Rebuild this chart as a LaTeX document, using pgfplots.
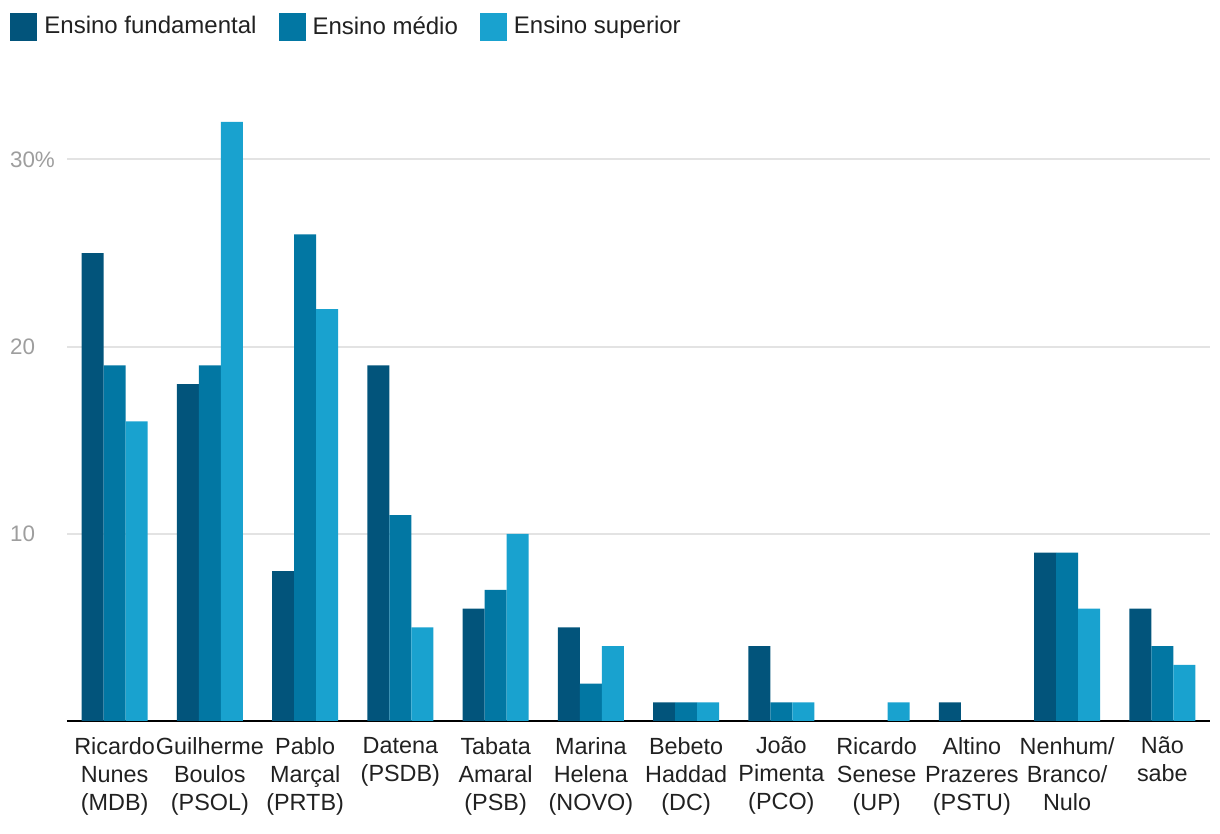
\documentclass[border=0pt]{standalone}
\usepackage{pgfplots}
\pgfplotsset{compat=1.18}
\usepackage{fontspec}
\setmainfont{Liberation Sans}

\definecolor{fund}{HTML}{02547B}
\definecolor{medio}{HTML}{0277A3}
\definecolor{sup}{HTML}{19A2CF}
\definecolor{gridc}{HTML}{E3E3E3}
\definecolor{tickc}{HTML}{9E9E9E}
\definecolor{txt}{HTML}{212121}

\begin{document}
\begin{tikzpicture}
\begin{axis}[
    scale only axis,
    width=571.5pt, height=299.5pt,
    ybar=0pt, bar width=11pt,
    xmin=-0.5, xmax=11.5,
    ymin=0, ymax=32,
    axis x line*=bottom, axis y line*=left,
    axis line style={-},
    x axis line style={black, line width=1pt},
    y axis line style={draw=none},
    major tick length=0pt,
    ymajorgrids, grid style={gridc, line width=1pt},
    ytick={10,20,30}, yticklabels={10,20,30\%},
    yticklabel style={font=\fontsize{11.2}{13}\selectfont, text=tickc, anchor=west, xshift=-32pt},
    xtick={0,...,11},
    xticklabels={
      {Ricardo\\Nunes\\(MDB)},
      {Guilherme\\Boulos\\(PSOL)},
      {Pablo\\Marçal\\(PRTB)},
      {Datena\\(PSDB)},
      {Tabata\\Amaral\\(PSB)},
      {Marina\\Helena\\(NOVO)},
      {Bebeto\\Haddad\\(DC)},
      {João\\Pimenta\\(PCO)},
      {Ricardo\\Senese\\(UP)},
      {Altino\\Prazeres\\(PSTU)},
      {Nenhum/\\Branco/\\Nulo},
      {Não\\sabe}},
    xticklabel style={font=\fontsize{11.7}{14}\selectfont, text=txt, align=center, anchor=north, yshift=-4.5pt},
    /pgf/number format/assume math mode=true,
    legend style={draw=none, fill=none, at={(0,1)}, anchor=north west,
        xshift=-28.5pt, yshift=55pt, inner sep=0pt,
        font=\fontsize{12}{14}\selectfont, text=txt,
        legend cell align=left,
        /tikz/every even column/.append style={column sep=9pt}},
    legend columns=3,
    legend image code/.code={\fill[#1] (0pt,-7pt) rectangle (13.5pt,7pt);},
]
\addplot[fill=fund, draw=none] coordinates {
  (0,25) (1,18) (2,8) (3,19) (4,6) (5,5) (6,1) (7,4) (9,1) (10,9) (11,6)};
\addplot[fill=medio, draw=none] coordinates {
  (0,19) (1,19) (2,26) (3,11) (4,7) (5,2) (6,1) (7,1) (10,9) (11,4)};
\addplot[fill=sup, draw=none] coordinates {
  (0,16) (1,32) (2,22) (3,5) (4,10) (5,4) (6,1) (7,1) (8,1) (10,6) (11,3)};
\legend{\hspace*{1.5pt}Ensino fundamental,\hspace*{1.5pt}Ensino médio,\hspace*{1.5pt}Ensino superior}
\end{axis}
\pgfresetboundingbox
\path ([xshift=-33.5pt, yshift=-56.5pt]current axis.south west)
  rectangle ([xshift=5pt, yshift=61pt]current axis.north east);
\end{tikzpicture}
\end{document}
